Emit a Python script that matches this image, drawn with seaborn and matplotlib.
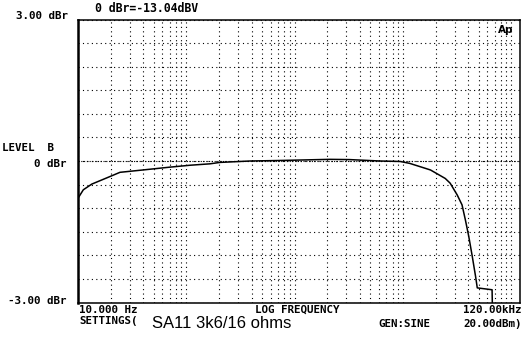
import numpy as np
import pandas as pd
import matplotlib
matplotlib.use("Agg")
import matplotlib.pyplot as plt
import seaborn as sns
from matplotlib.ticker import LogLocator, MultipleLocator, NullFormatter

# Resposta em frequencia (Hz, dBr)
freq_hz = [10, 11.2, 13.4, 19.7, 24.4, 39.8, 70.7, 108, 165, 204, 387, 703,
           2100, 3200, 6100, 9400, 11500, 17900, 24500, 27200, 31600, 35000,
           37600, 40400, 43500, 46700, 48400, 66300, 67000, 120000]
level_dbr = [-0.79, -0.61, -0.49, -0.33, -0.24, -0.19, -0.13, -0.09, -0.06, -0.03,
             0.0, 0.01, 0.035, 0.03, 0.0, -0.01, -0.05, -0.19, -0.37, -0.47,
             -0.72, -0.93, -1.25, -1.6, -2.02, -2.45, -2.69, -2.73, -3.3, -3.3]

db = pd.DataFrame({'freq': freq_hz, 'level': level_dbr})

sns.set_style('white')
plt.rcParams['font.family'] = ['DejaVu Sans Mono', 'DejaVu Sans']

fig = plt.figure(figsize=(5.29, 3.39), dpi=100)
ax = fig.add_axes([78/529, 1 - 302.5/339, 442/529, 283/339])

sns.lineplot(data=db, x='freq', y='level', color='black', linewidth=1.1, ax=ax)

ax.set_xscale('log')
ax.set_xlim(10, 120000)
ax.set_ylim(-3, 3)
ax.xaxis.set_major_locator(LogLocator(base=10, subs=np.arange(1, 10)))
ax.xaxis.set_minor_locator(LogLocator(base=10, subs=[]))
ax.xaxis.set_major_formatter(NullFormatter())
ax.xaxis.set_minor_formatter(NullFormatter())
ax.yaxis.set_major_locator(MultipleLocator(0.5))
ax.yaxis.set_major_formatter(NullFormatter())
ax.tick_params(length=0)
ax.set_xlabel('')
ax.set_ylabel('')
ax.grid(True, color='black', linestyle=(0, (1, 3)), linewidth=0.8)
ax.axhline(0, color='black', linestyle=(0, (1, 1.5)), linewidth=0.8)
for s in ax.spines.values():
    s.set_color('black')
    s.set_linewidth(1.1)
ax.spines['left'].set_linewidth(1.8)

fk = dict(fontsize=7.8, fontweight='bold', color='black')
def px(x, y, s, ha='left', **kw):
    d = dict(fk)
    d.update(kw)
    fig.text(x/529, 1 - y/339, s, ha=ha, va='center', **d)

px(95, 9, '0 dBr=-13.04dBV', fontsize=8.3)
px(68, 16, '3.00 dBr', ha='right')
px(498, 30, 'Ap', fontsize=7.5, family='DejaVu Sans')
px(2, 148, 'LEVEL  B')
px(67, 164, '0 dBr', ha='right')
px(67, 301, '-3.00 dBr', ha='right')
px(79, 310, '10.000 Hz')
px(297, 310, 'LOG FREQUENCY', ha='center')
px(522, 310, '120.00kHz', ha='right')
px(79, 321, 'SETTINGS(')
px(378, 324, 'GEN:SINE')
px(522, 324, '20.00dBm)', ha='right')
fig.text(152/529, 1 - 323/339, 'SA11 3k6/16 ohms', ha='left', va='center',
         fontsize=12, family='Liberation Sans', color='black')

fig.savefig('out.png', dpi=100)
